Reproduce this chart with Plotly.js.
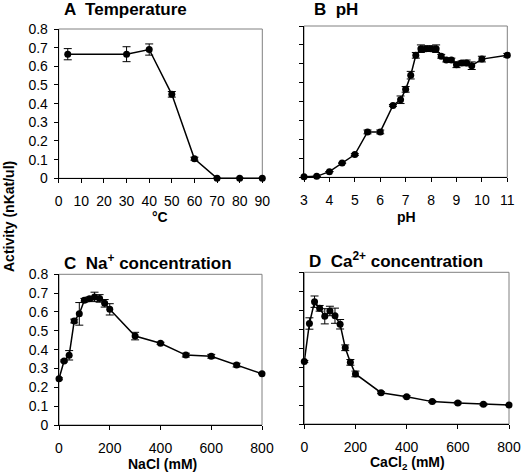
<!DOCTYPE html>
<html>
<head>
<meta charset="utf-8">
<script src="https://cdn.plot.ly/plotly-3.0.1.min.js"></script>
<style>html,body{margin:0;padding:0;background:#fff;}#chart{width:522px;height:476px;}</style>
</head>
<body>
<div id="chart"></div>
<script>
// Panel A: Temperature
const tempC = [4, 30, 40, 50, 60, 70, 80, 90];
const tempActivity = [0.665, 0.665, 0.69, 0.45, 0.105, 0, 0, 0];
const tempError = [0.03, 0.04, 0.03, 0.015, 0.008, 0, 0, 0];

// Panel B: pH
const pHValues = [3, 3.5, 4, 4.5, 5, 5.5, 6, 6.5, 6.8, 7, 7.2, 7.4, 7.6, 7.8, 8, 8.2, 8.4, 8.6, 8.8, 9, 9.2, 9.4, 9.6, 10, 11];
const pHActivity = [0.003, 0.005, 0.03, 0.075, 0.12, 0.24, 0.24, 0.38, 0.41, 0.465, 0.54, 0.645, 0.68, 0.68, 0.68, 0.68, 0.64, 0.62, 0.62, 0.595, 0.605, 0.605, 0.59, 0.625, 0.645];
const pHError = [0, 0, 0, 0, 0.005, 0.01, 0.01, 0.005, 0.02, 0.015, 0.02, 0.015, 0.02, 0.015, 0.015, 0.02, 0.01, 0.01, 0.01, 0.015, 0.01, 0.015, 0.02, 0.015, 0.01];

// Panel C: Na+ concentration
const naclMM = [0, 20, 40, 60, 80, 100, 120, 140, 160, 180, 200, 300, 400, 500, 600, 700, 800];
const naclActivity = [0.245, 0.34, 0.37, 0.552, 0.59, 0.662, 0.67, 0.68, 0.672, 0.646, 0.614, 0.472, 0.434, 0.371, 0.365, 0.318, 0.272];
const naclError = [0.005, 0.005, 0.025, 0.01, 0.06, 0.01, 0.01, 0.025, 0.02, 0.02, 0.03, 0.02, 0.005, 0.01, 0.01, 0.01, 0];

// Panel D: Ca2+ concentration
const caclMM = [0, 20, 40, 60, 80, 100, 120, 140, 160, 180, 200, 300, 400, 500, 600, 700, 800];
const caclActivity = [0.33, 0.53, 0.645, 0.61, 0.568, 0.596, 0.571, 0.526, 0.402, 0.325, 0.264, 0.165, 0.144, 0.118, 0.111, 0.104, 0.1];
const caclError = [0.005, 0.03, 0.03, 0.015, 0.04, 0.025, 0.04, 0.025, 0.015, 0.015, 0.015, 0.005, 0.005, 0.005, 0.005, 0.005, 0];

const panelTitles = ['A  Temperature', 'B  pH', 'C  Na<sup>+</sup> concentration', 'D  Ca<sup>2+</sup> concentration'];
const axisTitles = ['°C', 'pH', 'NaCl (mM)', 'CaCl<sub>2</sub> (mM)'];
const yAxisTitle = 'Activity (nKat/ul)';

function series(x, y, err, xa, ya) {
  return {
    x: x, y: y, xaxis: xa, yaxis: ya, type: 'scatter', mode: 'lines+markers',
    line: {color: '#000', width: 1.5},
    marker: {color: '#000', size: 7},
    error_y: {type: 'data', array: err, visible: true, color: '#000', thickness: 1, width: 4},
    cliponaxis: false, showlegend: false, hoverinfo: 'x+y'
  };
}

const data = [
  series(tempC, tempActivity, tempError, 'x', 'y'),
  series(pHValues, pHActivity, pHError, 'x2', 'y2'),
  series(naclMM, naclActivity, naclError, 'x3', 'y3'),
  series(caclMM, caclActivity, caclError, 'x4', 'y4')
];

const tickFont = {family: 'Liberation Sans, Arial, sans-serif', size: 14, color: '#000'};
function xax(domain, range, dtick, anchor) {
  return {domain: domain, range: range, dtick: dtick, tick0: 0, anchor: anchor,
    showline: true, linecolor: '#000', linewidth: 1, mirror: false,
    ticks: 'outside', ticklen: 4, tickcolor: '#000', showgrid: false, zeroline: false,
    tickfont: tickFont, ticklabelstandoff: 6, fixedrange: true};
}
function yax(domain, anchor, labels) {
  return {domain: domain, range: [0, 0.8], dtick: 0.1, tick0: 0, anchor: anchor,
    showline: true, linecolor: '#000', linewidth: 1, mirror: false,
    ticks: 'outside', ticklen: 4, tickcolor: '#000', showgrid: false, zeroline: false,
    showticklabels: labels, tickfont: tickFont, ticklabelstandoff: 3, fixedrange: true};
}

const W = 522, H = 476;
const px = v => v / W;
const py = v => 1 - v / H;

const boxes = [['x', 'y'], ['x2', 'y2'], ['x3', 'y3'], ['x4', 'y4']].map(([a, b]) => ({
  type: 'rect', xref: a + ' domain', yref: b + ' domain', x0: 0, x1: 1, y0: 0, y1: 1,
  line: {color: '#808080', width: 1}, layer: 'below'
}));

const titleFont = {family: 'Liberation Sans, Arial, sans-serif', size: 17, color: '#000', weight: 'bold'};
const labFont = {family: 'Liberation Sans, Arial, sans-serif', size: 14, color: '#000', weight: 'bold'};
function ann(text, x, y, font, xanchor, angle) {
  return {text: text, xref: 'paper', yref: 'paper', x: px(x), y: py(y), showarrow: false,
    xanchor: xanchor || 'center', yanchor: 'middle', font: font, textangle: angle || 0};
}

const annotations = [
  ann('<b>' + panelTitles[0] + '</b>', 62, 9, titleFont, 'left'),
  ann('<b>' + panelTitles[1] + '</b>', 312, 9, titleFont, 'left'),
  ann('<b>' + panelTitles[2] + '</b>', 62, 262, titleFont, 'left'),
  ann('<b>' + panelTitles[3] + '</b>', 307, 260, titleFont, 'left'),
  ann('<b>' + axisTitles[0] + '</b>', 160, 217, labFont),
  ann('<b>' + axisTitles[1] + '</b>', 406, 217, labFont),
  ann('<b>' + axisTitles[2] + '</b>', 162, 464, labFont),
  ann('<b>' + axisTitles[3] + '</b>', 407, 463, labFont),
  ann('<b>' + yAxisTitle + '</b>', 9, 217, labFont, 'center', -90)
];

const layout = {
  width: W, height: H,
  margin: {l: 0, r: 0, t: 0, b: 0},
  paper_bgcolor: '#fff', plot_bgcolor: '#fff',
  showlegend: false,
  font: {family: 'Liberation Sans, Arial, sans-serif', color: '#000'},
  xaxis: xax([px(58.7), px(262.3)], [0, 90], 10, 'y'),
  yaxis: yax([py(178.3), py(29)], 'x', true),
  xaxis2: xax([px(304), px(507.3)], [3, 11], 1, 'y2'),
  yaxis2: yax([py(177.3), py(26)], 'x2', false),
  xaxis3: xax([px(59), px(262)], [0, 800], 200, 'y3'),
  yaxis3: yax([py(425), py(274.3)], 'x3', true),
  xaxis4: xax([px(304.3), px(509)], [0, 800], 200, 'y4'),
  yaxis4: yax([py(424), py(272.3)], 'x4', false),
  shapes: boxes,
  annotations: annotations
};

Plotly.newPlot('chart', data, layout, {displayModeBar: false, staticPlot: true});
</script>
</body>
</html>
